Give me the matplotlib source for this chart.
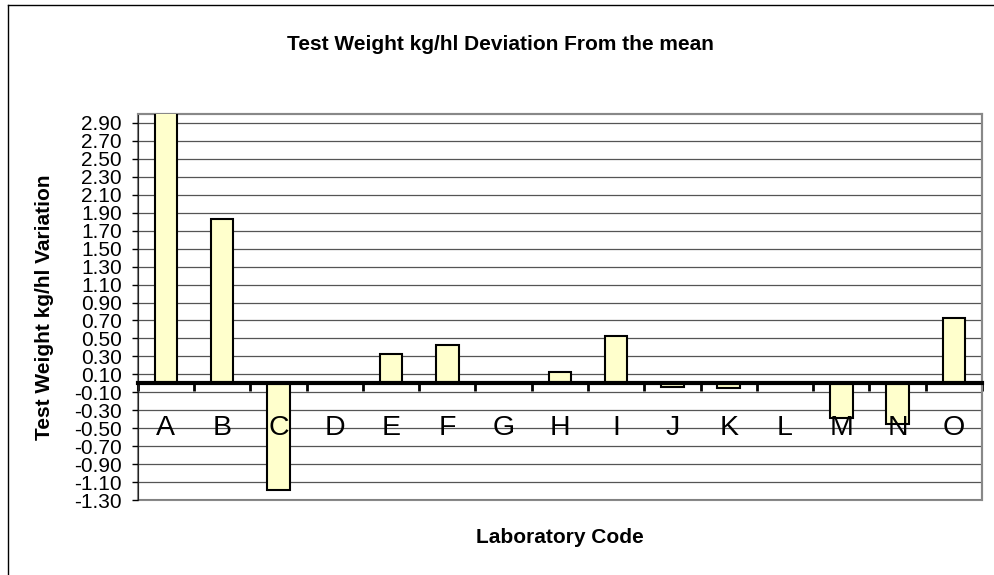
import numpy as np
import matplotlib
matplotlib.use("Agg")
import matplotlib.pyplot as plt
from matplotlib.patches import Rectangle
from matplotlib.lines import Line2D

plt.rcParams['font.family'] = ['Liberation Sans', 'DejaVu Sans']

# data
labs = ['A', 'B', 'C', 'D', 'E', 'F', 'G', 'H', 'I', 'J', 'K', 'L', 'M', 'N', 'O']
dev = [3.30, 1.83, -1.19, 0.0, 0.33, 0.43, 0.0, 0.13, 0.53, -0.04, -0.05, 0.0, -0.39, -0.45, 0.73]
yticks = np.round(np.arange(-1.3, 2.91, 0.2), 2)

fig = plt.figure(figsize=(9.95, 5.75), dpi=100)
ax = fig.add_axes([0.1384, 0.1304, 0.8486, 0.6713])

x = np.arange(len(labs))
ax.bar(x, dev, width=0.4, color='#FFFFCC', edgecolor='black', linewidth=1.5, zorder=3)

ax.set_xlim(-0.5, len(labs) - 0.5)
ax.set_ylim(-1.3, 3.0)

# gridlines at the labelled values
ax.set_yticks(yticks)
ax.set_yticklabels(['%.2f' % v for v in yticks], fontsize=15)
ax.yaxis.grid(True, color='#555555', linewidth=0.9, zorder=1)
ax.set_axisbelow(True)
ax.tick_params(axis='y', direction='out', length=4.5, width=1, pad=7)

# category axis at zero
ax.spines['bottom'].set_position(('data', 0))
ax.spines['bottom'].set_linewidth(3)
ax.spines['bottom'].set_zorder(4)
ax.set_xticks(np.arange(-0.5, len(labs)))
ax.set_xticklabels([])
ax.tick_params(axis='x', direction='out', length=6, width=2)
# category names sit on top of the bars
for i, lab in enumerate(labs):
    ax.text(i, -0.575, lab, ha='center', va='baseline', fontsize=20.5, zorder=5)

ax.spines['left'].set_color('#222222')
for s in ['top', 'right']:
    ax.spines[s].set_color('#888888')
    ax.spines[s].set_linewidth(1.5)
# bottom edge of the plot area
ax.add_patch(Rectangle((0, 0), 1, 1, transform=ax.transAxes, fill=False,
                       edgecolor='#888888', linewidth=1.5, clip_on=False, zorder=0))

fig.text(0.5025, 0.922, 'Test Weight kg/hl Deviation From the mean',
         ha='center', va='center', fontsize=15, fontweight='bold')
fig.text(0.045, 0.466, 'Test Weight kg/hl Variation', rotation=90,
         ha='center', va='center', fontsize=15, fontweight='bold')
fig.text(0.5627, 0.066, 'Laboratory Code', ha='center', va='center',
         fontsize=15, fontweight='bold')

# outer chart border (left and top visible)
fig.add_artist(Line2D([8 / 995, 8 / 995], [0, 1 - 5 / 575], transform=fig.transFigure,
                      color='black', linewidth=1))
fig.add_artist(Line2D([8 / 995, 1], [1 - 5 / 575, 1 - 5 / 575], transform=fig.transFigure,
                      color='black', linewidth=1))

fig.savefig('out.png', dpi=100)
